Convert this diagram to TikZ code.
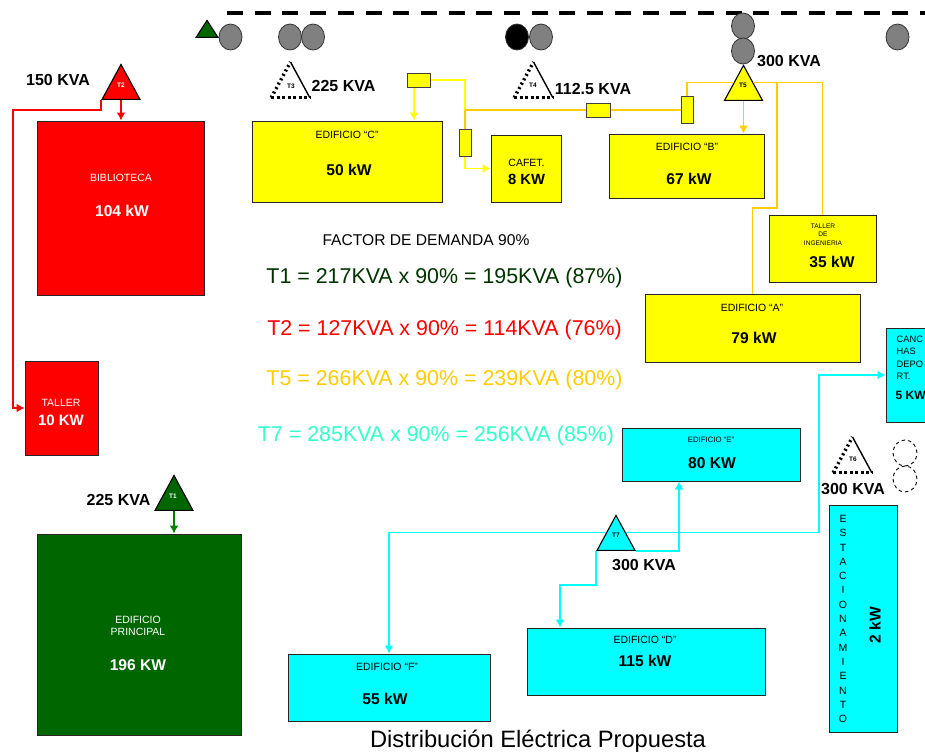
\documentclass[tikz,border=0pt]{standalone}
\usepackage{fontspec}
\setmainfont{Liberation Sans}
\usetikzlibrary{shapes.geometric,arrows.meta}

\tikzset{
  loadbox/.style n args={3}{draw=black!85,line width=1pt,fill=#3,inner sep=0pt,
    minimum width=#1,minimum height=#2},
  fuse/.style n args={2}{draw=black!75,line width=1pt,fill=pureyellow,inner sep=0pt,
    minimum width=#1,minimum height=#2},
  xfmr/.style={isosceles triangle,isosceles triangle stretches,shape border rotate=90,
    minimum width=38pt,minimum height=35pt,inner sep=0pt,anchor=apex},
  solidxfmr/.style={xfmr,draw=black,line width=1.1pt,fill=#1},
  tag/.style={font=\fontsize{6.5}{7}\selectfont\bfseries,inner sep=0pt},
  switch/.style={ellipse,draw=black!80,line width=.8pt,fill=#1,inner sep=0pt,
    minimum width=23pt,minimum height=26pt},
  spare/.style={ellipse,draw=black,dash pattern=on 3.5pt off 3pt,line width=.9pt,inner sep=0pt,
    minimum width=24pt,minimum height=26pt},
  kva/.style={font=\fontsize{16}{16}\selectfont\bfseries,inner sep=0pt},
  power/.style={font=\fontsize{15.6}{16}\selectfont\bfseries,inner sep=0pt},
  boxname/.style={font=\fontsize{10.5}{12.4}\selectfont,align=center,inner sep=0pt},
  formula/.style={font=\fontsize{21.4}{22}\selectfont,inner sep=0pt},
  feed/.style={line width=1.5pt,draw=#1,-{Latex[length=8pt,width=9pt]}},
  wire/.style={line width=1.5pt,draw=#1}
}
\definecolor{pureyellow}{HTML}{FFFF00}
\definecolor{purecyan}{HTML}{00FFFF}
\definecolor{purered}{HTML}{FF0000}

\begin{document}
\begin{tikzpicture}[x=1pt,y=-1pt]
\useasboundingbox (0,0) rectangle (925,753);
\definecolor{gold}{HTML}{FFCC00}
\definecolor{mint}{HTML}{33FFCC}
\definecolor{darkgreen}{HTML}{006600}
\definecolor{linegreen}{HTML}{008000}
\definecolor{textgreen}{HTML}{003300}
\definecolor{switchgrey}{HTML}{808080}

% Bus at the top with its switches
\coordinate (busstart) at (227,13);
\coordinate (busend) at (925,13);
\draw[line width=4pt,dash pattern=on 16pt off 11.7pt] (busstart) -- (busend);
\node[xfmr,draw=black,line width=1.1pt,fill=darkgreen,minimum width=22pt,minimum height=17pt] (busmark) at (207,19) {};
\node[switch=switchgrey] (sw1) at (230.5,37) {};
\node[switch=switchgrey] (sw2) at (290,37) {};
\node[switch=switchgrey] (sw3) at (313,37) {};
\node[switch=black] (sw4) at (517,37) {};
\node[switch=switchgrey] (sw5) at (541,37) {};
\node[switch=switchgrey] (sw6) at (743,26) {};
\node[switch=switchgrey] (sw7) at (743,51) {};
\node[switch=switchgrey] (sw8) at (897.5,37) {};
\node[spare] (spare1) at (905,453) {};
\node[spare] (spare2) at (905,479) {};

% Transformers in service are filled
\node[solidxfmr=purered] (t2) at (121,63) {};
\node[solidxfmr=darkgreen] (t1) at (174,474) {};
\node[solidxfmr=pureyellow] (t5) at (743.5,64) {};
\node[solidxfmr=purecyan] (t7) at (616,514) {};
\node[tag,white] (t2tag) at (121,85) {T2};
\node[tag,white] (t1tag) at (173,496) {T1};
\node[tag] (t5tag) at (743,85) {T5};
\node[tag] (t7tag) at (616,535) {T7};

% Transformers left out have hatched sides
\node[xfmr] (t3) at (290.5,62) {};
\node[xfmr] (t4) at (533.5,62) {};
\node[xfmr] (t6) at (852.5,437) {};
\foreach \tr in {t3,t4,t6} {
  \draw[line width=3.4pt,dash pattern=on 2pt off 3pt] (\tr.left corner) -- (\tr.apex);
  \draw[line width=3pt,dash pattern=on 3pt off 2.5pt] (\tr.left corner) -- (\tr.right corner);
  \draw[line width=1.4pt] (\tr.apex) -- (\tr.right corner);
}
\node[tag] (t3tag) at (291,86) {T3};
\node[tag] (t4tag) at (533,85) {T4};
\node[tag] (t6tag) at (853,459) {T6};

% Transformer ratings
\node[kva] (kva2) at (58,80) {150 KVA};
\node[kva] (kva3) at (343.5,86) {225 KVA};
\node[kva] (kva4) at (593,89) {112.5 KVA};
\node[kva] (kva5) at (789,61) {300 KVA};
\node[kva] (kva1) at (118.5,500) {225 KVA};
\node[kva] (kva7) at (644,565) {300 KVA};
\node[kva] (kva6) at (853,488.5) {300 KVA};

% Red buildings
\node[loadbox={167pt}{174pt}{purered}] (biblioteca) at (120.5,208) {};
\node[boxname,white] (bibliotecaname) at (121,178) {BIBLIOTECA};
\node[power,white] (bibliotecakw) at (122,211) {104 kW};
\node[loadbox={73pt}{94pt}{purered}] (tallerr) at (61.5,408) {};
\node[boxname,white] (tallerrname) at (61,403) {TALLER};
\node[power,white,font=\fontsize{15}{15}\selectfont\bfseries] (tallerrkw) at (61,420) {10 KW};

% Green building
\node[loadbox={204pt}{201pt}{darkgreen}] (principal) at (139,634.5) {};
\node[boxname,white] (principalname) at (138,626) {EDIFICIO\\PRINCIPAL};
\node[power,white] (principalkw) at (138,665) {196 KW};

% Yellow buildings
\node[loadbox={190pt}{81pt}{pureyellow}] (edifc) at (347,161.5) {};
\node[boxname] (edifcname) at (347,135) {EDIFICIO “C”};
\node[power] (edifckw) at (349,170) {50 kW};
\node[loadbox={70pt}{67pt}{pureyellow}] (cafet) at (526,168.5) {};
\node[boxname] (cafetname) at (526.5,163) {CAFET.};
\node[power,font=\fontsize{14.8}{15}\selectfont\bfseries] (cafetkw) at (526.5,179.5) {8 KW};
\node[loadbox={155pt}{64pt}{pureyellow}] (edifb) at (686.5,166) {};
\node[boxname] (edifbname) at (687,147) {EDIFICIO “B”};
\node[power] (edifbkw) at (689,179) {67 kW};
\node[loadbox={107pt}{67pt}{pureyellow}] (taller) at (822.5,248.5) {};
\node[boxname,font=\fontsize{6.6}{8.6}\selectfont] (tallername) at (823,234.5) {TALLER\\DE\\INGENIERIA};
\node[power] (tallerkw) at (832,262) {35 kW};
\node[loadbox={215pt}{68pt}{pureyellow}] (edifa) at (752.5,328) {};
\node[boxname] (edifaname) at (752,308) {EDIFICIO “A”};
\node[power] (edifakw) at (754,338) {79 kW};

% Fuses on the yellow lines
\node[fuse={23pt}{14pt}] (f1) at (418.5,80) {};
\node[fuse={12pt}{27pt}] (f2) at (465,142.5) {};
\node[fuse={24pt}{14pt}] (f3) at (598,110) {};
\node[fuse={12pt}{27pt}] (f4) at (687,110) {};

% Cyan buildings
\node[loadbox={50pt}{94pt}{purecyan}] (cancha) at (911,375) {};
\node[boxname,align=left,anchor=north west,font=\fontsize{9.3}{12.4}\selectfont] (canchaname) at (896.5,335.5) {CANC\\HAS\\DEPO\\RT.};
\node[power,anchor=west,font=\fontsize{12}{12}\selectfont\bfseries] (canchakw) at (895.5,395) {5 KW};
\node[loadbox={178pt}{53pt}{purecyan}] (edife) at (711,454.5) {};
\node[boxname,font=\fontsize{7.8}{9}\selectfont] (edifename) at (711,440) {EDIFICIO “E”};
\node[power] (edifekw) at (712,463.5) {80 KW};
\node[loadbox={238pt}{67pt}{purecyan}] (edifd) at (646,661.5) {};
\node[boxname] (edifdname) at (645,640) {EDIFICIO “D”};
\node[power] (edifdkw) at (645,661) {115 kW};
\node[loadbox={202pt}{67pt}{purecyan}] (ediff) at (389,687.5) {};
\node[boxname] (ediffname) at (387,667) {EDIFICIO “F”};
\node[power] (ediffkw) at (385,699) {55 kW};
\node[loadbox={68pt}{227pt}{purecyan}] (estac) at (863,618.5) {};
\node[boxname,font=\fontsize{10.5}{14.3}\selectfont] (estacname) at (843,619) {E\\S\\T\\A\\C\\I\\O\\N\\A\\M\\I\\E\\N\\T\\O};
\node[power,rotate=90] (estackw) at (875,625) {2 kW};

% Red lines from T2
\coordinate (bendtaller) at (13,110);
\draw[feed=purered] (t2.lower side) -- (t2.lower side |- biblioteca.north);
\draw[feed=purered] (t2.left corner) |- (bendtaller) |- (tallerr.west);

% Green line from T1
\draw[feed=linegreen] (t1.lower side) -- (t1.lower side |- principal.north);

% Yellow lines from T5, lighter past the fuses
\coordinate (joint) at (465,110);
\coordinate (benda) at (777,208);
\draw[wire=pureyellow] (f1.east) -| (joint);
\draw[feed=pureyellow] ([xshift=-4.5pt]f1.south) -- ([xshift=-4.5pt]f1.south |- edifc.north);
\draw[feed=pureyellow] (f2.south) |- (cafet.west);
\draw[wire=gold] (joint) -- (f2.north);
\draw[wire=gold] (joint) -- (f3.west);
\draw[wire=gold] (f3.east) -- (f4.west);
\draw[wire=gold] (f4.north) |- (t5.left side);
\draw[feed=gold] (t5.lower side) -- (t5.lower side |- edifb.north);
\draw[wire=gold] (t5.right side) -| (benda) -| (edifa.north);
\draw[wire=gold] (t5.right side) -| (taller.north);

% Cyan lines from T7
\coordinate (bendcancha) at (819,375);
\coordinate (bendd) at (560,585);
\draw[feed=purecyan] (t7.left side) -| (ediff.north);
\draw[feed=purecyan] (t7.right side) -| (bendcancha) -- (cancha.west);
\draw[feed=purecyan] (t7.right corner) -| ([xshift=-32pt]edife.south);
\draw[feed=purecyan] (t7.left corner) |- (bendd) -- (bendd |- edifd.north);

% Demand factor and loading per transformer
\node[font=\fontsize{15.6}{16}\selectfont,inner sep=0pt] (factor) at (426,240) {FACTOR DE DEMANDA 90\%};
\node[formula,text=textgreen] (loadt1) at (444.5,277.5) {T1 = 217KVA x 90\% = 195KVA (87\%)};
\node[formula,text=purered] (loadt2) at (444.5,329.5) {T2 = 127KVA x 90\% = 114KVA (76\%)};
\node[formula,text=gold] (loadt5) at (444.5,379.5) {T5 = 266KVA x 90\% = 239KVA (80\%)};
\node[formula,text=mint] (loadt7) at (436,435.5) {T7 = 285KVA x 90\% = 256KVA (85\%)};
\node[font=\fontsize{23.7}{24}\selectfont,inner sep=0pt] (title) at (538,741) {Distribución Eléctrica Propuesta};
\end{tikzpicture}
\end{document}
